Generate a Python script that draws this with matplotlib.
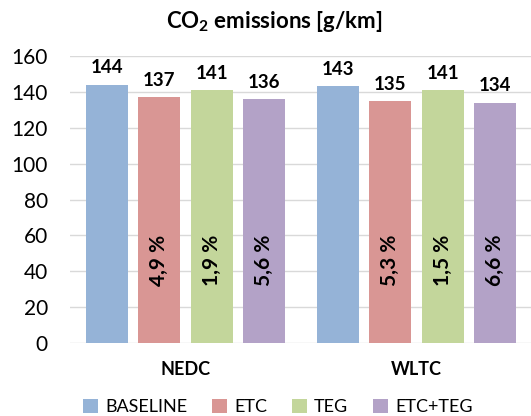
import numpy as np
import matplotlib.pyplot as plt

plt.rcParams['font.family'] = ['Lato', 'DejaVu Sans']

cycles = ['NEDC', 'WLTC']
series = ['BASELINE', 'ETC', 'TEG', 'ETC+TEG']
colors = ['#95B3D7', '#D99694', '#C3D69B', '#B3A2C7']
values = {
    'BASELINE': [144, 143],
    'ETC': [137, 135],
    'TEG': [141, 141],
    'ETC+TEG': [136, 134],
}
reductions = {
    'ETC': ['4,9 %', '5,3 %'],
    'TEG': ['1,9 %', '1,5 %'],
    'ETC+TEG': ['5,6 %', '6,6 %'],
}

fig = plt.figure(figsize=(5.31, 4.16), dpi=100)
ax = fig.add_axes([70/531, 1-343/416, 462/531, 287/416])

x = np.arange(len(cycles))
width = 0.182
step = 0.227
for i, s in enumerate(series):
    pos = x + (i - 1.5) * step
    bars = ax.bar(pos, values[s], width, color=colors[i], label=s, zorder=2)
    for b, v in zip(bars, values[s]):
        ax.annotate(str(v), (b.get_x() + b.get_width()/2, v), xytext=(0, 6),
                    textcoords='offset points', ha='center', va='bottom',
                    fontsize=13.5, fontweight='bold')
    if s in reductions:
        for p, t in zip(pos, reductions[s]):
            ax.text(p, 46, t, rotation=90, ha='center', va='center',
                    fontsize=15, fontweight='bold')

ax.set_xlim(-0.5, 1.5)
ax.set_ylim(0, 160)
ax.set_yticks(range(0, 161, 20))
ax.set_xticks(x)
ax.set_xticklabels(cycles, fontweight='bold', fontsize=13)
ax.tick_params(axis='x', length=0, pad=13)
ax.tick_params(axis='y', length=0, labelsize=15, pad=16)
ax.grid(axis='y', color='#d9d9d9', linewidth=1, zorder=0)
for sp in ax.spines.values():
    sp.set_visible(False)

fig.text(274/531, 1-22/416, 'CO$_\\mathregular{2}$ emissions [g/km]', ha='center', va='center',
         fontsize=16, fontweight='bold')

fig.legend(loc='center', bbox_to_anchor=(278/531, 1-407/416), ncol=4, frameon=False,
           fontsize=13, handlelength=0.8, handleheight=0.8, handletextpad=0.4,
           columnspacing=1.4)

fig.savefig('out.png', dpi=100)
